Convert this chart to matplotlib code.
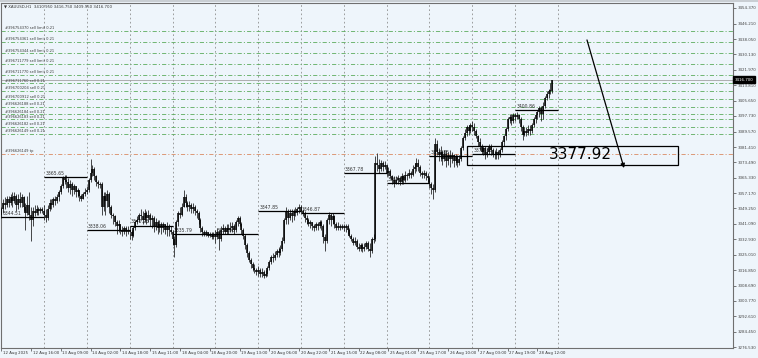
import matplotlib
matplotlib.use("Agg")
import matplotlib.pyplot as plt
from matplotlib.patches import Rectangle
from matplotlib import transforms

plt.rcParams['lines.scale_dashes'] = False

# ---------------- DATA ----------------
symbol_header = "\u25BC XAUUSD,H1  3410.950 3416.750 3409.950 3416.700"

# H1 candles, 12 Aug 2025 00:00 .. 28 Aug 2025 20:00 (23 bars per trading day)
opens = [
    # 12 Aug
    3346, 3349, 3352, 3351, 3354, 3352, 3355, 3353, 3356, 3351, 3354, 3352, 3355, 3350, 3347, 3351, 3346, 3343, 3348, 3347, 3349, 3348, 3349,
    # 13 Aug
    3348, 3346, 3344, 3349, 3352, 3351, 3354, 3353, 3355, 3358, 3361, 3365, 3364, 3363, 3360, 3362, 3359, 3361, 3358, 3359, 3356, 3354, 3357,
    # 14 Aug
    3358, 3359, 3364, 3368, 3370, 3366, 3363, 3362, 3362, 3350, 3356, 3353, 3357, 3350, 3346, 3345, 3342, 3340, 3341, 3338, 3337, 3339, 3337,
    # 15 Aug
    3338, 3337, 3335, 3339, 3342, 3343, 3346, 3345, 3343, 3347, 3344, 3346, 3343, 3344, 3340, 3342, 3339, 3341, 3339, 3341, 3338, 3340, 3338,
    # 18 Aug
    3337, 3333, 3330, 3342, 3347, 3346, 3350, 3355, 3352, 3350, 3351, 3349, 3350, 3348, 3347, 3343, 3339, 3337, 3336, 3337, 3335, 3336, 3334,
    # 19 Aug
    3336, 3334, 3337, 3333, 3338, 3339, 3337, 3339, 3338, 3339, 3340, 3338, 3342, 3344, 3341, 3338, 3335, 3330, 3326, 3322, 3320, 3318, 3317,
    # 20 Aug
    3316, 3317, 3315, 3316, 3314, 3315, 3318, 3321, 3324, 3323, 3325, 3327, 3326, 3328, 3332, 3343, 3348, 3344, 3347, 3345, 3348, 3347, 3349,
    # 21 Aug
    3350, 3348, 3347, 3344, 3343, 3341, 3342, 3340, 3339, 3341, 3340, 3342, 3340, 3334, 3332, 3343, 3346, 3343, 3345, 3341, 3339, 3340, 3339,
    # 22 Aug
    3340, 3339, 3340, 3338, 3335, 3333, 3331, 3332, 3329, 3328, 3330, 3328, 3329, 3331, 3328, 3327, 3333, 3333, 3373, 3372, 3370, 3373, 3371,
    # 25 Aug
    3372, 3368, 3369, 3366, 3364, 3362, 3364, 3365, 3363, 3366, 3364, 3367, 3366, 3368, 3367, 3370, 3371, 3373, 3371, 3368, 3367, 3368, 3366,
    # 26 Aug
    3365, 3362, 3360, 3359, 3383, 3379, 3377, 3379, 3375, 3378, 3374, 3377, 3375, 3377, 3374, 3376, 3373, 3375, 3381, 3386, 3389, 3392, 3390,
    # 27 Aug
    3393, 3392, 3390, 3387, 3384, 3382, 3379, 3381, 3378, 3379, 3382, 3380, 3378, 3377, 3379, 3377, 3380, 3384, 3387, 3391, 3396, 3397, 3395,
    # 28 Aug
    3398, 3397, 3398, 3396, 3392, 3388, 3390, 3389, 3391, 3390, 3393, 3396, 3398, 3400, 3402, 3399, 3403, 3407, 3409, 3411, 3410.95,
]
highs = [
    3350, 3354, 3355, 3356, 3356, 3357, 3358, 3358, 3357, 3357, 3358, 3357, 3356, 3352, 3356, 3358, 3350, 3350, 3351, 3351, 3350, 3350, 3350,
    3351, 3349, 3351, 3354, 3354, 3355, 3356, 3357, 3359, 3362, 3366, 3367, 3366.5, 3365, 3364, 3363, 3362, 3361, 3360, 3359, 3357, 3358, 3360,
    3361, 3365, 3375, 3372, 3371, 3367, 3364, 3363, 3363, 3358, 3358, 3359, 3358, 3351, 3347, 3346, 3343, 3343, 3341, 3340, 3340, 3340, 3340,
    3340, 3338, 3340, 3343, 3345, 3347, 3349, 3348, 3349, 3348, 3348.5, 3347, 3346, 3345, 3344, 3343, 3343, 3342, 3342, 3341, 3342, 3341, 3340,
    3338, 3335, 3343, 3348, 3350, 3352, 3359, 3357, 3353, 3353, 3352, 3352, 3351, 3349, 3348, 3344, 3340, 3338, 3338, 3337, 3337, 3337, 3337,
    3338, 3339, 3338, 3340, 3341, 3340, 3341, 3341, 3342, 3342, 3341, 3343, 3345, 3345, 3342, 3339, 3336, 3331, 3327, 3323, 3321, 3320, 3318,
    3319, 3318, 3318, 3317, 3317, 3319, 3322, 3325, 3326, 3327, 3328, 3329, 3330, 3334, 3344, 3350, 3349, 3349, 3349, 3349, 3350, 3350, 3351.5,
    3351, 3349, 3348, 3346, 3344, 3343, 3342, 3341, 3342, 3342, 3343, 3343, 3341, 3336, 3344, 3347.5, 3347, 3347, 3346, 3342, 3342, 3341, 3341,
    3341, 3341, 3341, 3339, 3336, 3334, 3334, 3333, 3331, 3331, 3331, 3331, 3332, 3332, 3331, 3334, 3336, 3376.5, 3378.5, 3375, 3374.5, 3374, 3374,
    3372, 3371, 3370, 3367, 3366, 3366, 3367, 3366, 3368, 3367, 3369, 3368, 3370, 3369, 3372, 3373, 3375.5, 3375, 3372, 3369, 3369.5, 3369, 3368,
    3366, 3363, 3362, 3386, 3385, 3381, 3382, 3380, 3380, 3380, 3379, 3380, 3379, 3378, 3378, 3377, 3377, 3382, 3387, 3391, 3393, 3393, 3394,
    3395, 3394, 3391, 3388, 3386, 3383, 3382, 3382, 3381, 3383, 3383, 3381, 3380, 3381, 3380, 3381, 3385, 3388, 3392, 3397, 3399, 3399, 3399.5,
    3399.5, 3400, 3399, 3397, 3393, 3392, 3392, 3393, 3393, 3394, 3397, 3399, 3401, 3403, 3403, 3405, 3408, 3411, 3412, 3415, 3416.75,
]
lows = [
    3344, 3347, 3349, 3350, 3350, 3351, 3350, 3352, 3348, 3349, 3350, 3350, 3348, 3338, 3346, 3343, 3332, 3340, 3345, 3346, 3346, 3347, 3347,
    3343, 3342, 3343, 3348, 3349, 3350, 3351, 3352, 3353, 3357, 3360, 3362, 3360, 3358, 3357, 3356, 3357, 3355, 3355, 3353, 3353, 3354, 3356,
    3357, 3358, 3363, 3366, 3364, 3361, 3360, 3360, 3346, 3348, 3346, 3350, 3347, 3344, 3341, 3340, 3336, 3337, 3336, 3335, 3336, 3335, 3336,
    3333, 3332.5, 3334, 3338, 3341, 3342, 3343, 3341, 3342, 3341, 3342, 3340, 3339, 3337, 3338, 3336, 3337, 3336, 3337, 3336, 3335, 3335, 3336,
    3330, 3324, 3329, 3340, 3344, 3345, 3350, 3350, 3348, 3348, 3347, 3347, 3346, 3344, 3341, 3337, 3335, 3335, 3335, 3334, 3334, 3333, 3333,
    3331, 3333, 3327.5, 3332, 3336, 3336, 3336, 3336, 3337, 3337, 3336, 3337, 3340, 3340, 3336, 3333, 3328, 3324, 3321, 3318, 3316.5, 3315.5, 3314.5,
    3314, 3313.5, 3313, 3312.5, 3313, 3314, 3317, 3320, 3321, 3322, 3324, 3324, 3325, 3327, 3331, 3341, 3341, 3343, 3342, 3343, 3345, 3346, 3347,
    3347, 3345, 3342, 3341, 3340, 3339, 3338, 3337.5, 3338, 3338, 3339, 3338, 3331, 3327, 3331, 3341, 3340, 3341, 3339, 3338, 3338, 3338, 3338.5,
    3337.5, 3337, 3336, 3334, 3332, 3330, 3330, 3328, 3327, 3327, 3326.5, 3327, 3328, 3327, 3323.5, 3326, 3331, 3332, 3369, 3368, 3369, 3369, 3370,
    3366, 3366, 3365, 3362, 3360.5, 3362, 3362, 3361.5, 3362, 3362, 3363, 3364, 3365, 3365, 3366, 3368, 3369, 3369, 3366, 3365, 3365, 3364, 3363,
    3360, 3357, 3354, 3358, 3377, 3374, 3374, 3372, 3374, 3371, 3372, 3371, 3373, 3371, 3372, 3371, 3372, 3374, 3380, 3385, 3387, 3388, 3389,
    3390, 3388, 3386, 3382, 3380, 3378, 3377, 3375, 3376, 3378, 3377, 3376, 3375, 3375, 3375, 3376, 3379, 3382, 3385, 3390, 3394, 3393, 3394,
    3395, 3396, 3394, 3390, 3385, 3387, 3387, 3388, 3388, 3389, 3392, 3394, 3396, 3397, 3395, 3396, 3402, 3406, 3407, 3409, 3409.95,
]
closes = [
    3349, 3352, 3351, 3354, 3352, 3355, 3353, 3356, 3351, 3354, 3352, 3355, 3350, 3347, 3351, 3346, 3343, 3348, 3347, 3349, 3348, 3349, 3348,
    3346, 3344, 3349, 3352, 3351, 3354, 3353, 3355, 3358, 3361, 3365, 3364, 3363, 3360, 3362, 3359, 3361, 3358, 3359, 3356, 3354, 3357, 3358,
    3359, 3364, 3368, 3370, 3366, 3363, 3362, 3362, 3350, 3356, 3353, 3357, 3350, 3346, 3345, 3342, 3340, 3341, 3338, 3337, 3339, 3337, 3338,
    3337, 3335, 3339, 3342, 3343, 3346, 3345, 3343, 3347, 3344, 3346, 3343, 3344, 3340, 3342, 3339, 3341, 3339, 3341, 3338, 3340, 3338, 3337,
    3333, 3330, 3342, 3347, 3346, 3350, 3355, 3352, 3350, 3351, 3349, 3350, 3348, 3347, 3343, 3339, 3337, 3336, 3337, 3335, 3336, 3334, 3336,
    3334, 3337, 3333, 3338, 3339, 3337, 3339, 3338, 3339, 3340, 3338, 3342, 3344, 3341, 3338, 3335, 3330, 3326, 3322, 3320, 3318, 3317, 3316,
    3317, 3315, 3316, 3314, 3315, 3318, 3321, 3324, 3323, 3325, 3327, 3326, 3328, 3332, 3343, 3348, 3344, 3347, 3345, 3348, 3347, 3349, 3350,
    3348, 3347, 3344, 3343, 3341, 3342, 3340, 3339, 3341, 3340, 3342, 3340, 3334, 3332, 3343, 3346, 3343, 3345, 3341, 3339, 3340, 3339, 3340,
    3339, 3340, 3338, 3335, 3333, 3331, 3332, 3329, 3328, 3330, 3328, 3329, 3331, 3328, 3327, 3333, 3333, 3373, 3372, 3370, 3373, 3371, 3372,
    3368, 3369, 3366, 3364, 3362, 3364, 3365, 3363, 3366, 3364, 3367, 3366, 3368, 3367, 3370, 3371, 3373, 3371, 3368, 3367, 3368, 3366, 3365,
    3362, 3360, 3359, 3383, 3379, 3377, 3379, 3375, 3378, 3374, 3377, 3375, 3377, 3374, 3376, 3373, 3375, 3381, 3386, 3389, 3392, 3390, 3393,
    3392, 3390, 3387, 3384, 3382, 3379, 3381, 3378, 3379, 3382, 3380, 3378, 3377, 3379, 3377, 3380, 3384, 3387, 3391, 3396, 3397, 3395, 3398,
    3397, 3398, 3396, 3392, 3388, 3390, 3389, 3391, 3390, 3393, 3396, 3398, 3400, 3402, 3399, 3403, 3407, 3409, 3411, 3411, 3416.7,
]
current_price = 3416.70

# x-axis time labels (every 16 bars)
time_label_bars = [0, 16, 32, 48, 64, 80, 96, 112, 128, 144, 160, 176, 192, 208, 224, 240, 256, 272, 288]
time_labels = ["12 Aug 2025", "12 Aug 16:00", "13 Aug 09:00", "14 Aug 02:00", "14 Aug 18:00",
               "15 Aug 11:00", "18 Aug 04:00", "18 Aug 20:00", "19 Aug 13:00", "20 Aug 06:00",
               "20 Aug 22:00", "21 Aug 15:00", "22 Aug 08:00", "25 Aug 01:00", "25 Aug 17:00",
               "26 Aug 10:00", "27 Aug 03:00", "27 Aug 19:00", "28 Aug 12:00"]
# day separators (first bar of each day)
day_start_bars = [23, 46, 69, 92, 115, 138, 161, 184, 207, 230, 253, 276, 299]

# right price scale
price_ticks = [3454.370, 3446.210, 3438.050, 3430.130, 3421.970, 3413.810, 3405.650, 3397.730,
               3389.570, 3381.410, 3373.490, 3365.330, 3357.170, 3349.250, 3341.090, 3332.930,
               3325.010, 3316.850, 3308.690, 3300.770, 3292.610, 3284.450, 3276.530]

# daily level segments
level_values = [3344.51, 3365.65, 3338.06, 3340.25, 3335.79, 3335.96, 3347.85, 3346.87,
                3367.78, 3362.31, 3376.85, 3377.86, 3400.86]
level_start_bars = [0, 23, 46, 69, 92, 115, 138, 161, 184, 207, 230, 253, 276]
level_end_bars = [23, 46, 69, 92, 115, 138, 161, 184, 207, 230, 253, 276, 299]

# trade levels
order_ids = ["#396754370", "#396754361", "#396754344", "#396711779", "#396711770",
             "#396711760", "#396700204", "#396700912", "#396626188", "#396626184",
             "#396626183", "#396626182", "#396626149"]
order_types = ["sell limit", "sell limit", "sell limit", "sell limit", "sell limit",
               "sell", "sell", "sell", "sell", "sell", "sell", "sell", "sell"]
order_lots = ["0.21"] * 13
order_prices = [3442.3, 3436.7, 3430.6, 3425.0, 3419.2, 3414.9, 3411.0, 3406.5,
                3402.6, 3398.6, 3396.0, 3392.1, 3388.3]
tp_label = "#396626149 tp"
tp_price = 3377.92

# drawn objects on the right
box_bars = (250.3, 363.5)
box_prices = (3372.0, 3382.0)
box_text = "3377.92"
box_text_pos = (310.8, 3377.3)
arrow_from = (314.6, 3437.6)
arrow_to = (334.5, 3370.4)

# ---------------- FIGURE ----------------
W, H = 758, 358
BG = '#eef5fb'
fig = plt.figure(figsize=(W / 100, H / 100), dpi=100)
fig.patch.set_facecolor(BG)
ax = fig.add_axes([1 / W, 10 / H, 732 / W, 345 / H])
ax.set_facecolor(BG)
ax.set_xlim(-0.107, 393.02)
ax.set_ylim(3276.01, 3456.99)

for s in ax.spines.values():
    s.set_color('#6f6f6f')
    s.set_linewidth(0.8)

# top strip
fig.patches.append(Rectangle((0, 356 / H), 1, 2 / H, transform=fig.transFigure,
                             facecolor='#c9ced3', edgecolor='none', zorder=0))

# day separators
for b in day_start_bars:
    ax.axvline(b, color='#858585', lw=0.55, ls=(0, (1.2, 1.8)), zorder=1)

# trade levels
dashdot = (0, (3.0, 1.5, 0.8, 1.5))
blend = transforms.blended_transform_factory(ax.transAxes, ax.transData)
for oid, typ, lot, p in zip(order_ids, order_types, order_lots, order_prices):
    ax.axhline(p, color='#5cab5c', lw=0.6, ls=dashdot, zorder=2)
    ax.text(2.2, p + 0.35, f"{oid} {typ} {lot}", fontsize=2.6, color='#3a3a3a',
            ha='left', va='bottom', zorder=5)
ax.axhline(tp_price, color='#d98a62', lw=0.6, ls=dashdot, zorder=2)
ax.text(2.2, tp_price + 0.35, tp_label, fontsize=2.6, color='#3a3a3a',
        ha='left', va='bottom', zorder=5)

# current price line
ax.axhline(current_price, color='#a3a3a3', lw=0.6, zorder=2)

# level segments
for v, b0, b1 in zip(level_values, level_start_bars, level_end_bars):
    ax.hlines(v, b0, b1, color='black', lw=0.9, zorder=3)
    ax.text(b0 + 0.6, v + 0.6, f"{v:.2f}", fontsize=3.3, color='#333333',
            ha='left', va='bottom', zorder=3)

# candles
for i, (o, h, l, c) in enumerate(zip(opens, highs, lows, closes)):
    top = max(h, o, c)
    bot = min(l, o, c)
    ax.vlines(i, bot, top, color='black', lw=0.5, zorder=4)
    b_hi, b_lo = max(o, c), min(o, c)
    if b_hi - b_lo < 0.6:
        mid = (b_hi + b_lo) / 2
        b_hi, b_lo = mid + 0.3, mid - 0.3
    ax.vlines(i, b_lo, b_hi, color='black', lw=1.1, zorder=4)

# box, text, arrow
ax.add_patch(Rectangle((box_bars[0], box_prices[0]), box_bars[1] - box_bars[0],
                       box_prices[1] - box_prices[0], fill=False, edgecolor='black',
                       lw=0.9, zorder=5))
ax.text(box_text_pos[0], box_text_pos[1], box_text, fontsize=11, color='black',
        ha='center', va='center', zorder=6)
ax.annotate('', xy=arrow_to, xytext=arrow_from,
            arrowprops=dict(arrowstyle='-|>', color='black', lw=0.9,
                            mutation_scale=6, shrinkA=0, shrinkB=0), zorder=6)

# axes ticks
ax.yaxis.tick_right()
ax.set_yticks(price_ticks)
ax.set_yticklabels([f"{p:.3f}" for p in price_ticks])
ax.tick_params(axis='y', which='both', labelsize=2.9, length=2.2, width=0.5,
               pad=1.2, colors='#444444', direction='out')
ax.set_xticks(time_label_bars)
ax.set_xticklabels([])
ax.tick_params(axis='x', length=2.2, width=0.5, colors='#444444', direction='out')
xblend = transforms.blended_transform_factory(ax.transData, ax.transAxes)
for b, lab in zip(time_label_bars, time_labels):
    ax.text(b + 0.9, -0.0135, lab, transform=xblend, fontsize=2.8, color='#333333',
            ha='left', va='center', clip_on=False)

# current price tag on scale
ax.text(1.002, current_price, f"{current_price:.3f}", transform=blend, fontsize=2.9,
        color='white', ha='left', va='center', clip_on=False, zorder=10,
        bbox=dict(boxstyle='square,pad=0.35', facecolor='black', edgecolor='black'))

# header
fig.text(4 / W, 1 - 7 / H, symbol_header, fontsize=2.8, color='#333333',
         ha='left', va='center')

fig.savefig('out.png', dpi=100, facecolor=BG)
